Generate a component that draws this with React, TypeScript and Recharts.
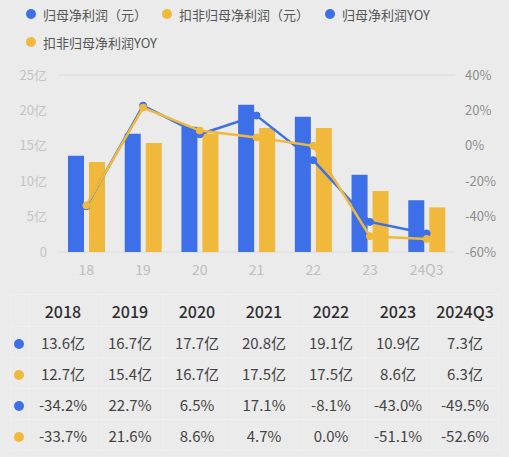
import React from "react";
import {
  ComposedChart,
  Bar,
  Line,
  XAxis,
  YAxis,
  CartesianGrid,
} from "recharts";

const categories = ["18", "19", "20", "21", "22", "23", "24Q3"];
const years = ["2018", "2019", "2020", "2021", "2022", "2023", "2024Q3"];
const netProfit = [13.6, 16.7, 17.7, 20.8, 19.1, 10.9, 7.3];
const deductedProfit = [12.7, 15.4, 16.7, 17.5, 17.5, 8.6, 6.3];
const netProfitYoy = [-34.2, 22.7, 6.5, 17.1, -8.1, -43.0, -49.5];
const deductedYoy = [-33.7, 21.6, 8.6, 4.7, 0.0, -51.1, -52.6];
const leftTicks = [0, 5, 10, 15, 20, 25];
const rightTicks = [-60, -40, -20, 0, 20, 40];

const BLUE = "#3d6fe8";
const YELLOW = "#f0b93b";
const FONT = "'Noto Sans CJK SC', 'Noto Sans', sans-serif";

const data = categories.map((c, i) => ({
  name: c,
  np: netProfit[i],
  dp: deductedProfit[i],
  npy: netProfitYoy[i],
  dpy: deductedYoy[i],
}));

const legendItems = [
  { label: "归母净利润（元）", color: BLUE, left: 26, top: 6 },
  { label: "扣非归母净利润（元）", color: YELLOW, left: 162, top: 6 },
  { label: "归母净利润YOY", color: BLUE, left: 325, top: 6 },
  { label: "扣非归母净利润YOY", color: YELLOW, left: 26, top: 34 },
];

const tableRows = [
  { color: BLUE, cells: netProfit.map((v) => v.toFixed(1) + "亿") },
  { color: YELLOW, cells: deductedProfit.map((v) => v.toFixed(1) + "亿") },
  { color: BLUE, cells: netProfitYoy.map((v) => v.toFixed(1) + "%") },
  { color: YELLOW, cells: deductedYoy.map((v) => v.toFixed(1) + "%") },
];

const cellBorder = "1px solid rgba(255,255,255,0.22)";

export default function App() {
  return (
    <div
      style={{
        position: "absolute",
        left: 0,
        top: 0,
        width: 509,
        height: 457,
        background: "#ebebeb",
        fontFamily: FONT,
        overflow: "hidden",
      }}
    >
      {legendItems.map((it) => (
        <div
          key={it.label}
          style={{
            position: "absolute",
            left: it.left,
            top: it.top,
            height: 16,
            display: "flex",
            alignItems: "center",
            fontSize: 13,
            color: "#555",
            whiteSpace: "nowrap",
          }}
        >
          <span
            style={{
              display: "inline-block",
              width: 10,
              height: 10,
              borderRadius: 5,
              background: it.color,
              marginRight: 7,
            }}
          />
          {it.label}
        </div>
      ))}
      <div style={{ position: "absolute", left: 0, top: 0 }}>
        <ComposedChart
          width={509}
          height={290}
          data={data}
          margin={{ top: 75, right: 0, bottom: 0, left: 0 }}
          barSize={16}
          barGap={5}
        >
          <CartesianGrid vertical={false} stroke="#dcdcdc" strokeWidth={1} />
          <XAxis
            dataKey="name"
            axisLine={false}
            tickLine={false}
            height={38}
            tickMargin={7}
            tick={{ fill: "#bdbdbd", fontSize: 14, fontFamily: FONT }}
          />
          <YAxis
            yAxisId="left"
            orientation="left"
            width={58}
            domain={[0, 25]}
            ticks={leftTicks}
            axisLine={false}
            tickLine={false}
            tickMargin={5}
            tickFormatter={(v) => (v === 0 ? "0" : v + "亿")}
            tick={{ fill: "#c4c4c4", fontSize: 13, fontFamily: FONT }}
          />
          <YAxis
            yAxisId="right"
            orientation="right"
            width={54}
            domain={[-60, 40]}
            ticks={rightTicks}
            axisLine={false}
            tickLine={false}
            tickMargin={4}
            tickFormatter={(v) => v + "%"}
            tick={{ fill: "#8e8e8e", fontSize: 13, fontFamily: FONT }}
          />
          <Bar yAxisId="left" dataKey="np" fill={BLUE} isAnimationActive={false} />
          <Bar yAxisId="left" dataKey="dp" fill={YELLOW} isAnimationActive={false} />
          <Line
            yAxisId="right"
            dataKey="npy"
            stroke={BLUE}
            strokeWidth={2.5}
            dot={{ r: 3.5, fill: BLUE, stroke: BLUE, strokeWidth: 1 }}
            isAnimationActive={false}
          />
          <Line
            yAxisId="right"
            dataKey="dpy"
            stroke={YELLOW}
            strokeWidth={2.5}
            dot={{ r: 3.5, fill: YELLOW, stroke: YELLOW, strokeWidth: 1 }}
            isAnimationActive={false}
          />
        </ComposedChart>
      </div>
      <table
        style={{
          position: "absolute",
          left: 10,
          top: 294,
          borderCollapse: "collapse",
          tableLayout: "fixed",
          width: 488,
          fontFamily: FONT,
        }}
      >
        <colgroup>
          <col style={{ width: 19 }} />
          {years.map((y) => (
            <col key={y} style={{ width: 67 }} />
          ))}
        </colgroup>
        <tbody>
          <tr style={{ height: 32 }}>
            <td style={{ border: cellBorder }} />
            {years.map((y) => (
              <td
                key={y}
                style={{
                  border: cellBorder,
                  textAlign: "center",
                  fontSize: 16,
                  fontWeight: 500,
                  color: "#2e2e2e",
                  padding: 0,
                }}
              >
                {y}
              </td>
            ))}
          </tr>
          {tableRows.map((row, ri) => (
            <tr key={ri} style={{ height: 31 }}>
              <td style={{ border: cellBorder, padding: 0, textAlign: "center" }}>
                <span
                  style={{
                    display: "inline-block",
                    width: 10,
                    height: 10,
                    borderRadius: 5,
                    background: row.color,
                    marginLeft: -3,
                  }}
                />
              </td>
              {row.cells.map((c, ci) => (
                <td
                  key={ci}
                  style={{
                    border: cellBorder,
                    textAlign: "center",
                    fontSize: 15,
                    color: "#444",
                    padding: 0,
                  }}
                >
                  {c}
                </td>
              ))}
            </tr>
          ))}
        </tbody>
      </table>
    </div>
  );
}
